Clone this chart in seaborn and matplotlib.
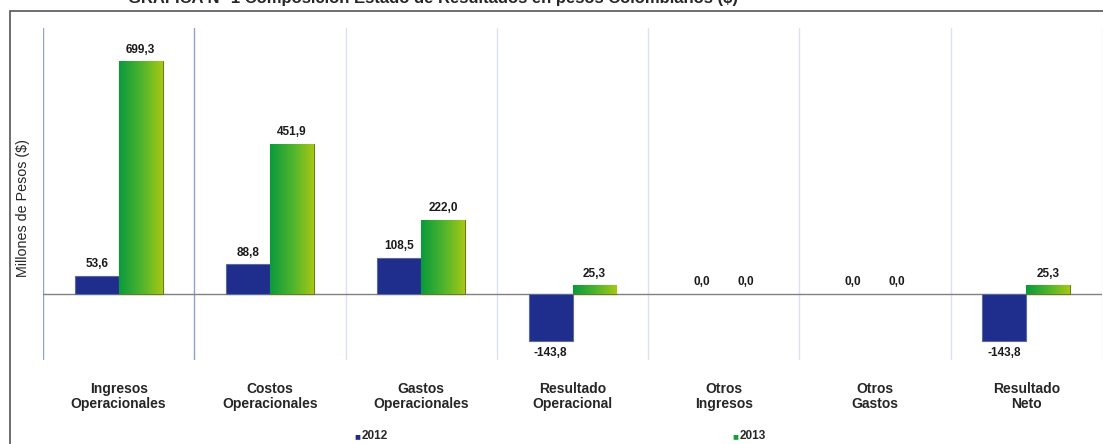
import numpy as np
import pandas as pd
import seaborn as sns
import matplotlib.pyplot as plt
from matplotlib.colors import LinearSegmentedColormap
from matplotlib.patches import Rectangle

## data
categorias = ['Ingresos\nOperacionales', 'Costos\nOperacionales', 'Gastos\nOperacionales',
              'Resultado\nOperacional', 'Otros\nIngresos', 'Otros\nGastos', 'Resultado\nNeto']
valores_2012 = [53.6, 88.8, 108.5, -143.8, 0.0, 0.0, -143.8]
valores_2013 = [699.3, 451.9, 222.0, 25.3, 0.0, 0.0, 25.3]
anios = ['2012', '2013']

df = pd.DataFrame({
    'categoria': categorias * 2,
    'valor': valores_2012 + valores_2013,
    'anio': [anios[0]] * len(categorias) + [anios[1]] * len(categorias),
})

sns.set_style('white')
plt.rcParams['font.family'] = ['Liberation Sans', 'DejaVu Sans']

azul = '#1f2d8c'
verde = '#12a03a'

fig = plt.figure(figsize=(11.03, 4.44), dpi=100)
ax = fig.add_axes([43 / 1103, 84 / 444, 1059 / 1103, 332 / 444])

sns.barplot(data=df, x='categoria', y='valor', hue='anio', palette={'2012': azul, '2013': verde},
            width=0.58, errorbar=None, saturation=1, legend=False, ax=ax,
            edgecolor='#5a6a9a', linewidth=0.8, zorder=3)

# green gradient on the 2013 bars
cmap_verde = LinearSegmentedColormap.from_list('verde', ['#0a9a3c', '#4cb32e', '#a6c815'])
grad = np.linspace(0, 1, 256).reshape(1, -1)
for bar in ax.containers[1]:
    h = bar.get_height()
    if h == 0:
        continue
    x0, y0, w = bar.get_x(), bar.get_y(), bar.get_width()
    im = ax.imshow(grad, extent=[x0, x0 + w, y0, y0 + h], aspect='auto', cmap=cmap_verde, zorder=3.5)
    im.set_clip_path(bar)
    bar.set_edgecolor('#6a7a20')

# zero bars draw nothing
for cont in ax.containers:
    for bar in cont:
        if bar.get_height() == 0:
            bar.set_linewidth(0)

# value labels with comma decimals
for cont, vals in zip(ax.containers, [valores_2012, valores_2013]):
    ax.bar_label(cont, labels=[f'{v:.1f}'.replace('.', ',') for v in vals],
                 padding=4, fontsize=8.5, fontweight='bold', color='#1a1a1a')

# category separators and zero line
for i in range(len(categorias) + 1):
    c = '#8fa3cc' if i < 2 else '#dde2f2'
    ax.axvline(i - 0.5, color=c, lw=1, zorder=1)
ax.axhline(0, color='#808080', lw=1, zorder=2)

ax.set_xlim(-0.5, len(categorias) - 0.5)
ax.set_ylim(-200, 800)
ax.set_yticks([])
ax.set_xlabel('')
ax.set_ylabel('Millones de Pesos ($)', fontsize=10.3, labelpad=6)
ax.yaxis.set_label_coords(-13 / 1059, (444 - 208 - 84) / 332)
ax.tick_params(axis='x', length=0, pad=16)
ax.set_xticks(range(len(categorias)))
ax.set_xticklabels(categorias, fontsize=10, fontweight='bold', linespacing=1.1)
for s in ax.spines.values():
    s.set_visible(False)

# frame around the chart
fig.patches.append(Rectangle((10 / 1103, -0.01), 1.05, 1 - 11 / 444 + 0.01, transform=fig.transFigure,
                             fill=False, edgecolor='#555555', lw=1.2))

# title (cut off at the top like the original)
fig.text(128 / 1103, 1 - 3 / 444, 'GRÁFICA N° 1 Composición Estado de Resultados en pesos Colombianos ($)',
         fontsize=12, fontweight='bold', ha='left', va='baseline')

# legend
fig.text(354 / 1103, 1 - 436 / 444, '■', color=azul, fontsize=7, va='center', ha='left')
fig.text(362 / 1103, 1 - 436 / 444, anios[0], fontsize=8.5, fontweight='bold', va='center', ha='left')
fig.text(732 / 1103, 1 - 436 / 444, '■', color=verde, fontsize=7, va='center', ha='left')
fig.text(740 / 1103, 1 - 436 / 444, anios[1], fontsize=8.5, fontweight='bold', va='center', ha='left')

fig.savefig('out.png', dpi=100)
plt.close()
